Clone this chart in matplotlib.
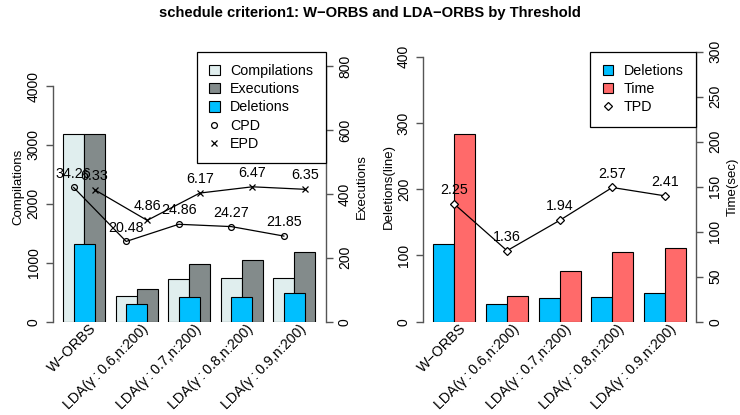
import numpy as np
import matplotlib
matplotlib.use("Agg")
import matplotlib.pyplot as plt
from matplotlib.patches import Patch
from matplotlib.lines import Line2D

plt.rcParams['font.family'] = ['Liberation Sans', 'DejaVu Sans']

# ---- data ----
groups = ["W\u2212ORBS", "LDA(\u03b3\u2009:\u20090.6,n:200)", "LDA(\u03b3\u2009:\u20090.7,n:200)",
          "LDA(\u03b3\u2009:\u20090.8,n:200)", "LDA(\u03b3\u2009:\u20090.9,n:200)"]
compilations = [3187, 430, 725, 735, 745]
executions = [587, 102, 180, 194, 217]
deletions_left = [1315, 300, 412, 424, 480]
cpd = [34.26, 20.48, 24.86, 24.27, 21.85]
epd = [6.33, 4.86, 6.17, 6.47, 6.35]

deletions_lines = [116.8, 26.3, 36.2, 37.3, 42.9]
time_sec = [209, 28.6, 56.3, 77.1, 82.2]
tpd = [2.25, 1.36, 1.94, 2.57, 2.41]

comp_ticks = [0, 1000, 2000, 3000, 4000]
exec_ticks = [0, 200, 400, 600, 800]
del_ticks = [0, 100, 200, 300, 400]
time_ticks = [0, 50, 100, 150, 200, 250, 300]

C_COMP = "#E0EEEE"
C_EXEC = "#838B8B"
C_DEL = "#00BFFF"
C_TIME = "#FF6A6A"
AXC = "#555555"
FS_TICK = 10.0
FS_LAB = 9.5
FS_TXT = 10.3

W, H = 740, 415
fig = plt.figure(figsize=(W / 100, H / 100), dpi=100)

n = len(groups)
idx = np.arange(n)
left_edge = 0.5 + 2.5 * idx          # first bar of each group starts here
centers = left_edge + 1.0
xlim = (0.02, 12.98)


def style_yaxis(a, side, ticks):
    for s in a.spines.values():
        s.set_visible(False)
    a.spines[side].set_visible(True)
    a.spines[side].set_color(AXC)
    a.spines[side].set_linewidth(1.0)
    a.spines[side].set_bounds(ticks[0], ticks[-1])
    a.set_yticks(ticks)
    a.tick_params(axis='y', which='both', left=(side == 'left'), right=(side == 'right'),
                  labelleft=(side == 'left'), labelright=(side == 'right'),
                  length=5, width=1.0, color=AXC, labelsize=FS_TICK, pad=9)
    for lab in a.get_yticklabels():
        lab.set_rotation(90)
        lab.set_va('center')
        lab.set_ha('center')


def x_labels(a):
    a.set_xticks([])
    for c, g in zip(centers, groups):
        a.annotate(g, xy=(c, 0), xycoords=('data', 'axes fraction'),
                   xytext=(7, -3.5), textcoords='offset points',
                   rotation=45, rotation_mode='anchor', ha='right', va='center',
                   fontsize=FS_TXT)


def make_legend(a, handles, tpad):
    lg = a.legend(handles=handles, loc='upper right', bbox_to_anchor=(1, 1),
                  borderaxespad=0, fancybox=False, edgecolor='black', framealpha=1,
                  fontsize=FS_TXT, handlelength=0.75, handleheight=0.75,
                  handletextpad=tpad, labelspacing=0.3, borderpad=0.85)
    lg.get_frame().set_linewidth(0.9)
    lg.set_zorder(10)
    return lg


# ---------------- left panel ----------------
pos_l = [53 / W, 1 - 321.7 / H, (325.5 - 53) / W, 270 / H]
ax = fig.add_axes(pos_l)
ax.set_xlim(*xlim)
ax.set_ylim(0, 4583)
ax.bar(left_edge, compilations, width=1.0, align='edge', color=C_COMP,
       edgecolor='black', linewidth=0.8, zorder=2)
style_yaxis(ax, 'left', comp_ticks)
ax.set_ylabel("Compilations", fontsize=FS_LAB, labelpad=1.5)
x_labels(ax)

ax2 = fig.add_axes(pos_l, sharex=ax)
ax2.patch.set_visible(False)
ax2.set_ylim(0, 845)
ax2.bar(left_edge + 1.0, executions, width=1.0, align='edge', color=C_EXEC,
        edgecolor='black', linewidth=0.8, zorder=2)
style_yaxis(ax2, 'right', exec_ticks)
ax2.yaxis.set_label_position('right')
ax2.set_ylabel("Executions", fontsize=FS_LAB, labelpad=3, rotation=90)
ax2.set_xticks([])

ax3 = fig.add_axes(pos_l, sharex=ax)
ax3.patch.set_visible(False)
ax3.axis('off')
ax3.set_ylim(0, 4583)
ax3.bar(centers, deletions_left, width=1.0, color=C_DEL, edgecolor='black',
        linewidth=0.8, zorder=2)

# ratio lines on their own hidden scales
ax4 = fig.add_axes(pos_l, sharex=ax)
ax4.patch.set_visible(False)
ax4.axis('off')
ax4.set_ylim(0, 68.9)
ax4.plot(left_edge + 0.5, cpd, color='black', lw=0.9, marker='o', ms=4.2,
         mfc='none', mec='black', mew=0.9)
for xv, v in zip(left_edge + 0.5, cpd):
    ax4.annotate(f"{v:.2f}", xy=(xv, v), xytext=(0, 5), textcoords='offset points',
                 ha='center', va='bottom', fontsize=FS_TXT)

ax5 = fig.add_axes(pos_l, sharex=ax)
ax5.patch.set_visible(False)
ax5.axis('off')
ax5.set_ylim(0, 12.95)
ax5.plot(left_edge + 1.5, epd, color='black', lw=0.9, marker='x', ms=4.8, mew=0.9)
for xv, v in zip(left_edge + 1.5, epd):
    ax5.annotate(f"{v:.2f}", xy=(xv, v), xytext=(0, 5), textcoords='offset points',
                 ha='center', va='bottom', fontsize=FS_TXT)

handles_l = [
    Patch(facecolor=C_COMP, edgecolor='black', linewidth=0.8, label='Compilations'),
    Patch(facecolor=C_EXEC, edgecolor='black', linewidth=0.8, label='Executions'),
    Patch(facecolor=C_DEL, edgecolor='black', linewidth=0.8, label='Deletions'),
    Line2D([], [], ls='none', marker='o', mfc='none', mec='black', ms=4.2, mew=0.9, label='CPD'),
    Line2D([], [], ls='none', marker='x', color='black', ms=4.8, mew=0.9, label='EPD'),
]
make_legend(ax5, handles_l, 0.75)

# ---------------- right panel ----------------
pos_r = [423.3 / W, 1 - 321.7 / H, (696 - 423.3) / W, 270 / H]
bx = fig.add_axes(pos_r)
bx.set_xlim(*xlim)
bx.set_ylim(0, 407.5)
bx.bar(left_edge, deletions_lines, width=1.0, align='edge', color=C_DEL,
       edgecolor='black', linewidth=0.8, zorder=2)
style_yaxis(bx, 'left', del_ticks)
bx.set_ylabel("Deletions(line)", fontsize=FS_LAB, labelpad=1.5)
x_labels(bx)

bx2 = fig.add_axes(pos_r, sharex=bx)
bx2.patch.set_visible(False)
bx2.set_ylim(0, 300)
bx2.bar(left_edge + 1.0, time_sec, width=1.0, align='edge', color=C_TIME,
        edgecolor='black', linewidth=0.8, zorder=2)
style_yaxis(bx2, 'right', time_ticks)
bx2.yaxis.set_label_position('right')
bx2.set_ylabel("Time(sec)", fontsize=FS_LAB, labelpad=3, rotation=90)
bx2.set_xticks([])

bx3 = fig.add_axes(pos_r, sharex=bx)
bx3.patch.set_visible(False)
bx3.axis('off')
bx3.set_ylim(0, 5.17)
bx3.plot(centers, tpd, color='black', lw=0.9, marker='D', ms=4.3, mfc='white',
         mec='black', mew=0.9)
for xv, v in zip(centers, tpd):
    bx3.annotate(f"{v:.2f}", xy=(xv, v), xytext=(0, 5), textcoords='offset points',
                 ha='center', va='bottom', fontsize=FS_TXT)

handles_r = [
    Patch(facecolor=C_DEL, edgecolor='black', linewidth=0.8, label='Deletions'),
    Patch(facecolor=C_TIME, edgecolor='black', linewidth=0.8, label='Time'),
    Line2D([], [], ls='none', marker='D', mfc='white', mec='black', ms=4.3, mew=0.9, label='TPD'),
]
make_legend(bx3, handles_r, 0.75)

fig.suptitle("schedule criterion1: W\u2212ORBS and LDA\u2212ORBS by Threshold",
             x=0.5, y=1 - 12.5 / H, va='center', fontsize=10.6, fontweight='bold')

fig.savefig("out.png", dpi=100)
